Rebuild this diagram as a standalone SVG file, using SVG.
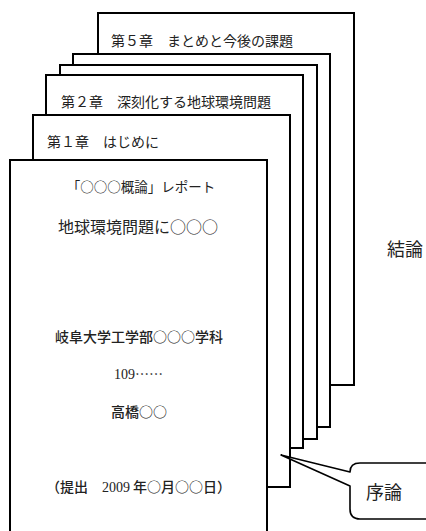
<svg xmlns="http://www.w3.org/2000/svg" width="426" height="531" viewBox="0 0 426 531">
<style>
.page{fill:#fff;stroke:#000;stroke-width:2}
.t{font-family:"Noto Sans CJK JP","Liberation Sans",sans-serif;fill:#222}
.s{font-family:"Liberation Serif","Noto Sans CJK JP",serif;fill:#222}
.c{font-size:14px}
.m{font-weight:500}
.callout{fill:#fff;stroke:#000;stroke-width:1.6;stroke-linejoin:round}
</style>
<rect width="426" height="531" fill="#fff"/>
<g id="page5"><rect class="page" x="98" y="13" width="256" height="372"/><text class="s c" x="111" y="46">第５章　まとめと今後の課題</text></g>
<g id="page4"><rect class="page" x="73" y="54" width="257" height="373"/></g>
<g id="page3"><rect class="page" x="60" y="65" width="257" height="374"/></g>
<g id="page2"><rect class="page" x="46" y="75" width="257" height="373"/><text class="s c" x="61" y="107">第２章　深刻化する地球環境問題</text></g>
<g id="page1"><rect class="page" x="33" y="115" width="257" height="372"/><text class="s c" x="47" y="147">第１章　はじめに</text></g>
<g id="cover">
<rect class="page" x="10" y="160" width="257" height="380"/>
<text class="t" x="141" y="192" font-size="13.5" text-anchor="middle">「○○○概論」レポート</text>
<text class="t" x="138" y="232.5" font-size="16" text-anchor="middle">地球環境問題に○○○</text>
<text class="t c m" x="139" y="342" text-anchor="middle">岐阜大学工学部○○○学科</text>
<text class="s c" x="138.5" y="379" text-anchor="middle">109<tspan font-family="Noto Sans CJK JP">……</tspan></text>
<text class="t c m" x="139" y="417" text-anchor="middle">高橋○○</text>
<text class="t c m" x="138.5" y="492" text-anchor="middle">（提出　<tspan font-family="Liberation Serif" font-weight="normal">2009</tspan> 年○月○○日）</text>
</g>
<g id="conclusion"><text class="t" x="387" y="256" font-size="18">結論</text></g>
<g id="connectors">
<path class="callout" d="M360 463 H440 V519 H360 Q350 519 350 509 V486 L281 455 L350 472 Q350 463 360 463 Z"/>
</g>
<g id="intro"><text class="t" x="366" y="499" font-size="18">序論</text></g>
</svg>
